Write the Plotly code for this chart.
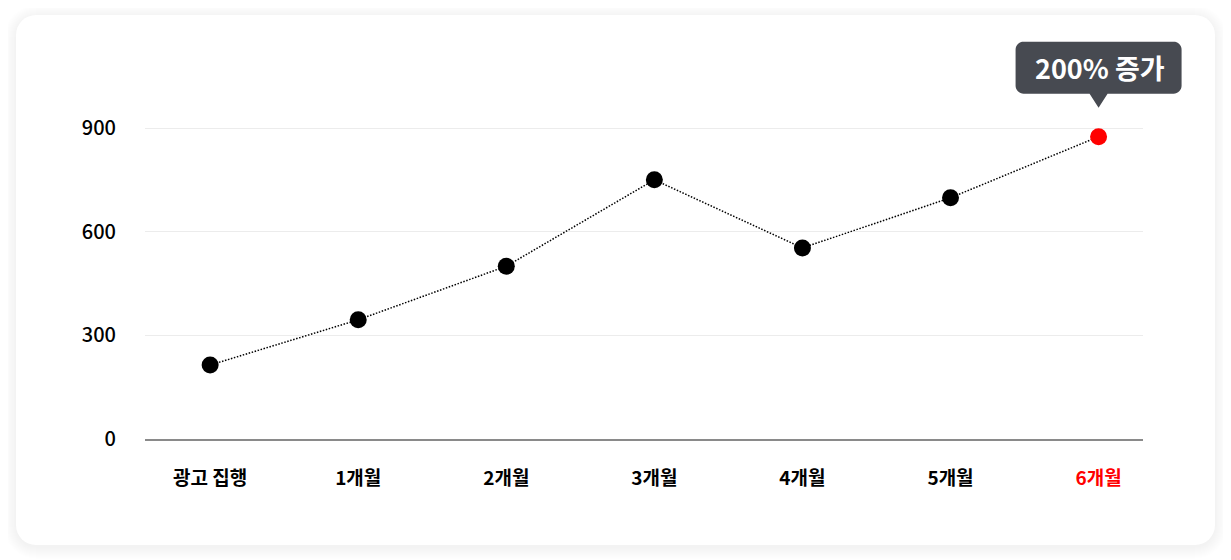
import math
import plotly.graph_objects as go

# ---- data ----
categories = ["광고 집행", "1개월", "2개월", "3개월", "4개월", "5개월", "6개월"]
values = [214, 345, 500, 750, 553, 698, 875]
marker_colors = ["#000000"] * 6 + ["#ff0000"]
label_colors = ["#000000"] * 6 + ["#ff0000"]
y_ticks = [0, 300, 600, 900]
callout_text = "200% 증가"

# page body has an 8px margin -> figure drawn 8px smaller, starting at page (8, 8)
O = 8
W, H = 1231 - O, 560 - O
PLOT_LEFT, PLOT_RIGHT, PLOT_TOP, PLOT_BOTTOM = 145, 1143, 93, 439  # page pixels
L = PLOT_LEFT - O
R = 1231 - PLOT_RIGHT
T = PLOT_TOP - O
B = 560 - PLOT_BOTTOM
plot_w = W - L - R
plot_h = H - T - B

X_RANGE = [-0.44, 6.30]
# y scale: 0 at page 439, 900 at page 128
px_per_unit = (439 - 128) / 900
Y_RANGE = [0, (PLOT_BOTTOM - PLOT_TOP) / px_per_unit]

FONT = "Noto Sans CJK KR"


def px2paper_x(px):
    return (px - PLOT_LEFT) / plot_w


def px2paper_y(py):
    return (PLOT_BOTTOM - py) / plot_h


def arc_pts(cx, cy, r, a0, a1, n=8):
    return [(cx + r * math.cos(math.radians(a0 + (a1 - a0) * i / n)),
             cy + r * math.sin(math.radians(a0 + (a1 - a0) * i / n))) for i in range(n + 1)]


def rounded_rect_pts(x0, y0, x1, y1, r):
    pts = []
    pts += arc_pts(x1 - r, y0 + r, r, -90, 0)
    pts += arc_pts(x1 - r, y1 - r, r, 0, 90)
    pts += arc_pts(x0 + r, y1 - r, r, 90, 180)
    pts += arc_pts(x0 + r, y0 + r, r, 180, 270)
    return pts


def paper_path(pts):
    return "M" + " L".join(f"{px2paper_x(x):.5f},{px2paper_y(y):.5f}" for x, y in pts) + " Z"


shapes = []
# soft shadow around card
for i in range(12, 0, -1):
    shapes.append(dict(
        type="path", xref="paper", yref="paper",
        path=paper_path(rounded_rect_pts(16 - i, 15 - i + 2, 1215 + i, 545 + i + 2, 20 + i)),
        fillcolor="rgba(0,0,0,0.005)", line=dict(width=0), layer="below",
    ))
# card
shapes.append(dict(
    type="path", xref="paper", yref="paper",
    path=paper_path(rounded_rect_pts(16, 15, 1215, 545, 20)),
    fillcolor="#ffffff", line=dict(width=0), layer="below",
))

# callout bubble: pixel-sized, anchored (in paper fractions) at the last data point
last_i = len(values) - 1
anchor_x = (last_i - X_RANGE[0]) / (X_RANGE[1] - X_RANGE[0])
anchor_y = (values[last_i] - Y_RANGE[0]) / (Y_RANGE[1] - Y_RANGE[0])
bw, btop, bbot, tip, tri = 83, 95, 43, 29, 9
rr = 8
bpts = []
bpts += [(p[0], -p[1]) for p in arc_pts(bw - rr, -(btop - rr), rr, -90, 0)]
bpts += [(p[0], -p[1]) for p in arc_pts(bw - rr, -(bbot + rr), rr, 0, 90)]
bpts += [(tri, bbot), (0, tip), (-tri, bbot)]
bpts += [(p[0], -p[1]) for p in arc_pts(-bw + rr, -(bbot + rr), rr, 90, 180)]
bpts += [(p[0], -p[1]) for p in arc_pts(-bw + rr, -(btop - rr), rr, 180, 270)]
bubble = "M" + " L".join(f"{x:.2f},{y:.2f}" for x, y in bpts) + " Z"
shapes.append(dict(
    type="path", xref="paper", yref="paper",
    xsizemode="pixel", ysizemode="pixel",
    xanchor=anchor_x, yanchor=anchor_y,
    path=bubble, fillcolor="#474a51", line=dict(width=0), layer="above",
))

fig = go.Figure()
fig.add_trace(go.Scatter(
    x=list(range(len(categories))), y=values,
    mode="lines+markers",
    line=dict(color="#000000", width=1.5, dash="1.5px,1.6px"),
    marker=dict(size=17, color=marker_colors, line=dict(width=0)),
    hoverinfo="skip", showlegend=False, cliponaxis=False,
))

ticktext = [f"<span style='color:{c}'>{t}</span>" for t, c in zip(categories, label_colors)]

fig.update_layout(
    width=W, height=H,
    margin=dict(l=L, r=R, t=T, b=B, pad=0),
    paper_bgcolor="#ffffff", plot_bgcolor="rgba(0,0,0,0)",
    font=dict(family=FONT, color="#000000"),
    shapes=shapes,
    xaxis=dict(
        range=X_RANGE,
        tickvals=list(range(len(categories))), ticktext=ticktext,
        tickfont=dict(size=19, weight=700, family=FONT),
        showgrid=False, zeroline=False,
        showline=True, linecolor="#8a8a8a", linewidth=2,
        ticks="", ticklabelstandoff=21, fixedrange=True,
    ),
    yaxis=dict(
        range=Y_RANGE,
        tickvals=y_ticks, ticktext=[str(v) for v in y_ticks],
        tickfont=dict(size=20, family=FONT, color="#000000", weight=500),
        showgrid=True, gridcolor="#ececec", gridwidth=1,
        zeroline=False, showline=False,
        ticks="", ticklabelstandoff=28, fixedrange=True,
    ),
    annotations=[dict(
        x=last_i, y=values[last_i], xref="x", yref="y",
        text=f"<b>{callout_text}</b>", showarrow=False,
        yshift=69, xshift=1,
        font=dict(size=27, color="#ffffff", family=FONT),
    )],
)

fig.write_html("out.html")
